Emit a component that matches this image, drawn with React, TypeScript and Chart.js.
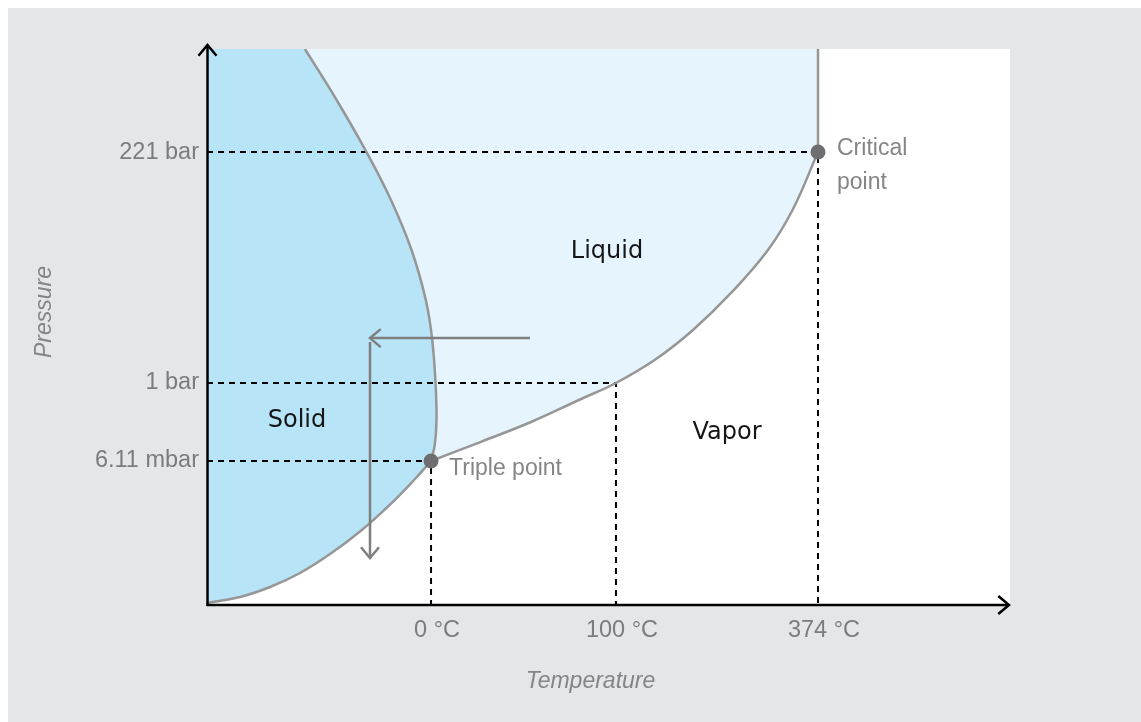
import { useEffect, useRef } from 'react';
import { Chart, registerables } from 'chart.js';

Chart.register(...registerables);

// Schematic axes run from 0 to 100 on both scales.
const temperatureTicks = [27.9, 50.93, 76.09];
const temperatureLabels = ['0 °C', '100 °C', '374 °C'];
const pressureTicks = [25.9, 39.93, 81.47];
const pressureLabels = ['6.11 mbar', '1 bar', '221 bar'];

// Phase boundaries
const sublimationT = [0, 4.11, 7.85, 11.58, 15.32, 19.05, 22.79, 25.9, 27.9];
const sublimationP = [0.36, 1.44, 3.24, 5.76, 9.17, 13.22, 18.06, 22.66, 25.9];
const meltingT = [27.9, 28.36, 28.58, 28.46, 28.02, 27.25, 25.47, 22.91, 19.86, 16.14, 12.2];
const meltingP = [25.9, 28.78, 33.27, 39.93, 48.02, 54.86, 63.85, 72.84, 81.47, 90.83, 100];
const vaporizationT = [27.9, 34.12, 40.35, 46.58, 50.93, 55.92, 60.52, 65.26, 69.86, 72.98, 76.09];
const vaporizationP = [25.9, 29.35, 32.91, 37.05, 39.93, 44.24, 49.46, 56.12, 63.85, 71.22, 81.47];
const criticalLineT = [76.09, 76.09];
const criticalLineP = [81.47, 100];

// Process arrows
const coolingArrowT = [40.22, 20.3];
const coolingArrowP = [48.0, 48.0];
const dropArrowT = [20.3, 20.3];
const dropArrowP = [47.3, 8.45];

// Phase names
const phaseNames = ['Solid', 'Liquid', 'Vapor'];
const phaseT = [11.21, 49.81, 64.76];
const phaseP = [33.09, 63.49, 30.94];

const pts = (xs: number[], ys: number[]) => xs.map((x, i) => ({ x, y: ys[i] }));

const GRAY_TEXT = '#7c7c7c';
const CURVE = '#969696';
const ARROW = '#7f7f7f';

function drawHead(ctx: CanvasRenderingContext2D, fx: number, fy: number, tx: number, ty: number, color: string, width: number) {
  const ang = Math.atan2(ty - fy, tx - fx);
  const len = 14;
  const spread = (40 * Math.PI) / 180;
  ctx.save();
  ctx.strokeStyle = color;
  ctx.lineWidth = width;
  ctx.lineJoin = 'miter';
  ctx.lineCap = 'butt';
  ctx.beginPath();
  ctx.moveTo(tx - len * Math.cos(ang - spread), ty - len * Math.sin(ang - spread));
  ctx.lineTo(tx, ty);
  ctx.lineTo(tx - len * Math.cos(ang + spread), ty - len * Math.sin(ang + spread));
  ctx.stroke();
  ctx.restore();
}

const decorPlugin = {
  id: 'decor',
  beforeDraw(chart: any) {
    const { ctx, chartArea: a } = chart;
    ctx.save();
    ctx.fillStyle = '#e5e6e8';
    ctx.fillRect(0, 0, chart.canvas.width, chart.canvas.height);
    ctx.fillStyle = '#ffffff';
    ctx.fillRect(a.left, a.top, a.right - a.left, a.bottom - a.top);
    ctx.restore();
  },
  afterDatasetsDraw(chart: any) {
    const { ctx, chartArea: a, scales } = chart;
    const sx = scales.x;
    const sy = scales.y;

    chart.data.datasets.forEach((ds: any, i: number) => {
      if (!ds.arrow) return;
      const el = chart.getDatasetMeta(i).data;
      const p1 = el[el.length - 2];
      const p2 = el[el.length - 1];
      drawHead(ctx, p1.x, p1.y, p2.x, p2.y, ds.borderColor, ds.borderWidth);
    });

    // axes with arrows
    ctx.save();
    ctx.strokeStyle = '#000';
    ctx.lineWidth = 2.5;
    ctx.beginPath();
    ctx.moveTo(a.left + 0.5, a.bottom + 1);
    ctx.lineTo(a.left + 0.5, a.top - 4);
    ctx.stroke();
    ctx.beginPath();
    ctx.moveTo(a.left - 0.5, a.bottom);
    ctx.lineTo(a.right - 1, a.bottom);
    ctx.stroke();
    ctx.restore();
    drawHead(ctx, a.left + 0.5, a.bottom, a.left + 0.5, a.top - 4, '#000', 2.5);
    drawHead(ctx, a.left, a.bottom, a.right - 1, a.bottom, '#000', 2.5);

    ctx.save();
    ctx.textBaseline = 'middle';
    // phase names
    ctx.fillStyle = '#161616';
    ctx.font = '24px "DejaVu Sans"';
    ctx.textAlign = 'center';
    phaseNames.forEach((n, i) => {
      ctx.fillText(n, sx.getPixelForValue(phaseT[i]), sy.getPixelForValue(phaseP[i]));
    });
    // point labels
    ctx.fillStyle = '#858585';
    ctx.font = '23px "Liberation Sans"';
    ctx.textAlign = 'left';
    const tx = sx.getPixelForValue(temperatureTicks[0]);
    const ty = sy.getPixelForValue(pressureTicks[0]);
    ctx.fillText('Triple point', tx + 18, ty + 8);
    const cx = sx.getPixelForValue(temperatureTicks[2]);
    const cy = sy.getPixelForValue(pressureTicks[2]);
    ctx.fillText('Critical', cx + 19, cy - 3);
    ctx.fillText('point', cx + 19, cy + 31);
    // axis titles
    ctx.fillStyle = '#858585';
    ctx.font = 'italic 23px "Liberation Sans"';
    ctx.textAlign = 'center';
    ctx.fillText('Temperature', a.left + 383.5, a.bottom + 77);
    ctx.translate(a.left - 162, a.top + 263);
    ctx.rotate(-Math.PI / 2);
    ctx.fillText('Pressure', 0, 0);
    ctx.restore();
  },
};

export default function App() {
  const ref = useRef<HTMLCanvasElement | null>(null);

  useEffect(() => {
    if (!ref.current) return;
    const line = (data: any[], extra: any) => ({
      data,
      pointRadius: 0,
      pointHoverRadius: 0,
      fill: false,
      tension: 0,
      ...extra,
    });
    const dashed = (t: number, p: number) =>
      line(pts([0, t, t], [p, p, 0]), { borderColor: '#000', borderWidth: 2, borderDash: [6, 5], order: 6 });

    const chart = new Chart(ref.current, {
      type: 'line',
      data: {
        datasets: [
          line(pts([...sublimationT, ...vaporizationT], [...sublimationP, ...vaporizationP]), {
            borderColor: 'transparent', borderWidth: 0, backgroundColor: '#e5f4fd', fill: { value: 100 }, tension: 0.4, order: 10,
          }),
          line(pts([...sublimationT, ...meltingT], [...sublimationP, ...meltingP]), {
            indexAxis: 'y', borderColor: 'transparent', borderWidth: 0, backgroundColor: '#b8e4f8', fill: { value: 0 }, tension: 0.4, order: 9,
          }),
          dashed(temperatureTicks[2], pressureTicks[2]),
          dashed(temperatureTicks[1], pressureTicks[1]),
          dashed(temperatureTicks[0], pressureTicks[0]),
          line(pts(sublimationT, sublimationP), { borderColor: CURVE, borderWidth: 2.5, tension: 0.4, order: 5 }),
          line(pts(meltingT, meltingP), { borderColor: CURVE, borderWidth: 2.5, tension: 0.4, order: 5 }),
          line(pts(vaporizationT, vaporizationP), { borderColor: CURVE, borderWidth: 2.5, tension: 0.4, order: 5 }),
          line(pts(criticalLineT, criticalLineP), { borderColor: CURVE, borderWidth: 2.5, order: 5 }),
          line(pts(coolingArrowT, coolingArrowP), { borderColor: ARROW, borderWidth: 2.5, order: 4, arrow: true }),
          line(pts(dropArrowT, dropArrowP), { borderColor: ARROW, borderWidth: 2.5, order: 4, arrow: true }),
          {
            data: pts([temperatureTicks[0], temperatureTicks[2]], [pressureTicks[0], pressureTicks[2]]),
            showLine: false,
            pointRadius: 7.5,
            pointHoverRadius: 7.5,
            pointBackgroundColor: '#6e6e71',
            pointBorderWidth: 0,
            pointBorderColor: 'transparent',
            order: 1,
          },
        ] as any,
      },
      options: {
        responsive: false,
        animation: false,
        events: [],
        layout: { padding: { left: 0, right: 131, top: 41, bottom: 0 } },
        plugins: { legend: { display: false }, tooltip: { enabled: false } },
        scales: {
          x: {
            type: 'linear',
            min: 0,
            max: 100,
            afterBuildTicks: (s: any) => { s.ticks = temperatureTicks.map((v) => ({ value: v })); },
            afterFit: (s: any) => { s.height = 117; },
            ticks: {
              callback: (_v: any, i: number) => temperatureLabels[i],
              font: { family: '"Liberation Sans"', size: 23.5 },
              color: GRAY_TEXT,
              padding: 11,
              labelOffset: 6,
              autoSkip: false,
              maxRotation: 0,
            },
            grid: { display: false, drawTicks: false },
            border: { display: false },
          },
          y: {
            type: 'linear',
            min: 0,
            max: 100,
            afterBuildTicks: (s: any) => { s.ticks = pressureTicks.map((v) => ({ value: v })); },
            afterFit: (s: any) => { s.width = 199; },
            ticks: {
              callback: (_v: any, i: number) => pressureLabels[i],
              font: { family: '"Liberation Sans"', size: 23.5 },
              color: GRAY_TEXT,
              padding: 8,
              autoSkip: false,
            },
            grid: { display: false, drawTicks: false },
            border: { display: false },
          },
        },
      } as any,
      plugins: [decorPlugin],
    });
    return () => chart.destroy();
  }, []);

  return (
    <div style={{ position: 'fixed', left: 8, top: 8, width: 1133, height: 714, background: '#e5e6e8' }}>
      <canvas
        ref={ref}
        width={1133}
        height={714}
        style={{ display: 'block', width: 1133, height: 714, maxWidth: 'none', maxHeight: 'none' }}
      />
    </div>
  );
}
